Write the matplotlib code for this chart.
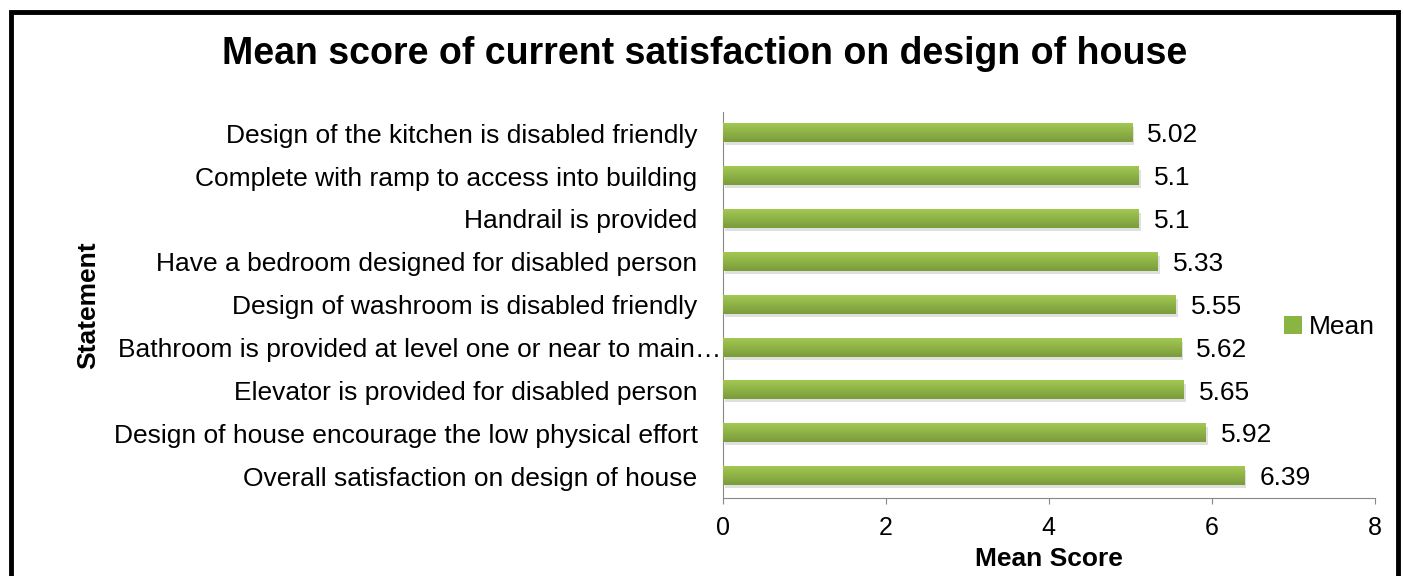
import numpy as np
import matplotlib
matplotlib.use('Agg')
from matplotlib import pyplot as plt, patches, transforms

plt.rcParams['font.family'] = ['Liberation Sans', 'DejaVu Sans']

statements = [
    'Overall satisfaction on design of house',
    'Design of house encourage the low physical effort',
    'Elevator is provided for disabled person',
    'Bathroom is provided at level one or near to main\u2026',
    'Design of washroom is disabled friendly',
    'Have a bedroom designed for disabled person',
    'Handrail is provided',
    'Complete with ramp to access into building',
    'Design of the kitchen is disabled friendly',
]
means = [6.39, 5.92, 5.65, 5.62, 5.55, 5.33, 5.1, 5.1, 5.02]
value_labels = ['6.39', '5.92', '5.65', '5.62', '5.55', '5.33', '5.1', '5.1', '5.02']
xticks = [0, 2, 4, 6, 8]

fig = plt.figure(figsize=(14.03, 5.76), dpi=100)
ax = fig.add_axes([0.515, 0.136, 0.465, 0.67])

y = np.arange(len(statements))
h = 0.42
bars = ax.barh(y, means, height=h, color='#8BB543', zorder=2)

# vertical gradient + soft shadow on each bar
grad = np.linspace(0, 1, 64).reshape(-1, 1)
cmap = matplotlib.colors.LinearSegmentedColormap.from_list('g', ['#A2C852', '#7A9C3B'])
for b in bars:
    x0, y0, w, hh = b.get_x(), b.get_y(), b.get_width(), b.get_height()
    ax.add_patch(patches.Rectangle((x0 + 0.03, y0 - 0.07), w, hh, color='#cccccc',
                                   alpha=0.6, zorder=1, lw=0))
    ax.imshow(grad, cmap=cmap, aspect='auto', extent=(x0, x0 + w, y0, y0 + hh),
              zorder=3, origin='upper')

for yi, v, lab in zip(y, means, value_labels):
    ax.text(v + 0.19, yi - 0.05, lab, va='center', ha='left', fontsize=19, zorder=4)

ax.set_xlim(0, 8)
ax.set_ylim(-0.5, len(statements) - 0.5)
ax.set_xticks(xticks)
ax.set_xticklabels([str(t) for t in xticks], fontsize=18)
ax.set_yticks(y)
ax.set_yticklabels(statements, fontsize=19)
ax.tick_params(axis='y', length=0, pad=18)
ax.tick_params(axis='x', direction='out', length=4.5, color='#888888', pad=9)
for s in ['top', 'right']:
    ax.spines[s].set_visible(False)
ax.spines['left'].set_color('#888888')
ax.spines['bottom'].set_color('#888888')

# truncated label sits right against the axis, like the original
for lbl in ax.get_yticklabels():
    if lbl.get_text().endswith('\u2026'):
        lbl.set_transform(lbl.get_transform() +
                          transforms.ScaledTranslation(0.24, 0, fig.dpi_scale_trans))

ax.set_xlabel('Mean Score', fontsize=19, fontweight='bold', labelpad=4.5)
fig.text(0.063, 0.47, 'Statement', rotation=90, fontsize=19, fontweight='bold',
         ha='center', va='center')

fig.suptitle('Mean score of current satisfaction on design of house', fontsize=27,
             fontweight='bold', x=0.502, y=0.937, va='top')

fig.legend([patches.Patch(facecolor='#8BB543')], ['Mean'], loc='center left',
           bbox_to_anchor=(0.915, 0.432), frameon=False, fontsize=19,
           handlelength=0.7, handleheight=0.7, handletextpad=0.25,
           borderpad=0, borderaxespad=0)

fig.add_artist(patches.Rectangle((0.0075, -0.003), 0.989, 0.983, transform=fig.transFigure,
                                 fill=False, edgecolor='black', lw=3.5))

fig.savefig('out.png', dpi=100)
